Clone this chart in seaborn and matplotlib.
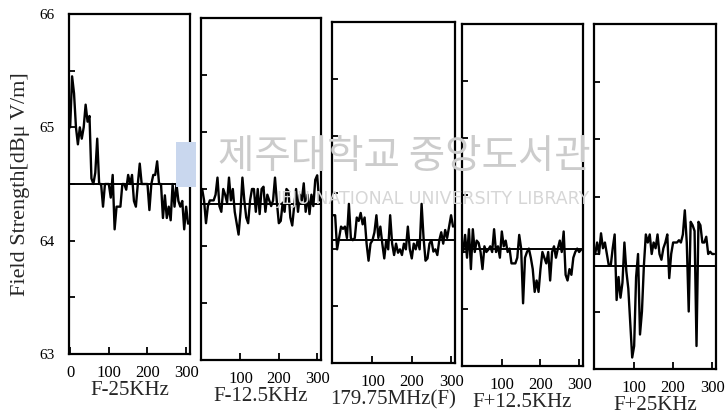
import matplotlib
matplotlib.use("Agg")
import matplotlib.pyplot as plt
import seaborn as sns
import pandas as pd
from matplotlib.ticker import MultipleLocator
from matplotlib.patches import Rectangle

# ---------------- data ----------------
x_pos = list(range(0, 310, 5))  # sample positions 0..305

panel_names = ["F-25KHz", "F-12.5KHz", "179.75MHz(F)", "F+12.5KHz", "F+25KHz"]
baselines = [64.5, 64.37, 64.08, 64.03, 63.9]

p1 = [65.0, 65.45, 65.3, 65.0, 64.85, 65.0, 64.9, 65.0, 65.2, 65.05,
      65.1, 64.55, 64.5, 64.6, 64.9, 64.5, 64.5, 64.3, 64.5, 64.5,
      64.5, 64.38, 64.58, 64.1, 64.3, 64.3, 64.3, 64.5, 64.5, 64.45,
      64.58, 64.5, 64.58, 64.35, 64.3, 64.5, 64.68, 64.5, 64.5, 64.5,
      64.5, 64.27, 64.5, 64.58, 64.58, 64.7, 64.5, 64.5, 64.2, 64.4,
      64.2, 64.3, 64.18, 64.5, 64.3, 64.5, 64.35, 64.3, 64.35, 64.1,
      64.3, 64.15]
p2 = [64.5, 64.4, 64.2, 64.35, 64.4, 64.4, 64.4, 64.45, 64.6, 64.35,
      64.3, 64.5, 64.45, 64.38, 64.6, 64.4, 64.5, 64.3, 64.2, 64.1,
      64.3, 64.6, 64.4, 64.25, 64.2, 64.4, 64.5, 64.5, 64.3, 64.5,
      64.28, 64.5, 64.52, 64.3, 64.45, 64.4, 64.35, 64.4, 64.6, 64.38,
      64.2, 64.22, 64.38, 64.3, 64.5, 64.48, 64.25, 64.18, 64.35, 64.5,
      64.3, 64.45, 64.4, 64.55, 64.3, 64.45, 64.28, 64.45, 64.35, 64.58,
      64.62, 64.4]
p3 = [64.3, 64.3, 64.0, 64.1, 64.2, 64.18, 64.2, 64.1, 64.4, 64.1,
      64.08, 64.1, 64.28, 64.25, 64.32, 64.22, 64.28, 64.05, 63.9, 64.05,
      64.08, 64.15, 64.3, 64.1, 64.2, 64.05, 63.92, 64.08, 64.0, 64.3,
      64.05, 63.95, 64.05, 63.97, 64.0, 63.95, 64.05, 64.0, 64.2, 64.0,
      63.92, 64.05, 64.0, 64.08, 64.0, 64.4, 64.1, 63.9, 63.92, 64.05,
      64.08, 63.98, 64.0, 63.95, 64.08, 64.15, 64.05, 64.17, 64.1, 64.2,
      64.3, 64.2]
p4 = [64.0, 64.15, 63.95, 64.2, 63.85, 64.2, 64.0, 64.1, 64.08, 64.0,
      63.85, 64.05, 64.0, 64.02, 64.05, 64.0, 64.2, 64.0, 64.05, 63.95,
      64.18, 64.05, 64.1, 64.0, 64.03, 63.9, 63.9, 63.9, 63.95, 64.15,
      64.03, 63.55, 63.95, 64.0, 64.03, 63.95, 63.85, 63.65, 63.75, 63.65,
      63.85, 64.0, 63.95, 63.9, 64.0, 63.75, 64.0, 64.05, 63.95, 64.03,
      64.1, 64.0, 64.18, 63.8, 63.75, 63.85, 63.8, 63.95, 64.0, 64.03,
      64.0, 64.02]
p5 = [64.0, 64.1, 64.0, 64.18, 64.05, 64.1, 64.0, 63.9, 63.9, 64.05,
      64.17, 63.6, 63.8, 63.62, 63.75, 64.1, 63.85, 63.7, 63.4, 63.1,
      63.2, 63.8, 64.0, 63.3, 63.5, 63.9, 64.17, 64.1, 64.17, 64.0,
      64.1, 64.05, 64.17, 64.0, 63.95, 64.05, 64.1, 64.17, 63.79, 64.0,
      64.1, 64.1, 64.1, 64.12, 64.1, 64.17, 64.38, 64.1, 63.5, 64.28,
      64.25, 64.2, 63.2, 64.28, 64.25, 64.1, 64.1, 64.15, 64.0, 64.02,
      64.0, 64.0]
series = [p1, p2, p3, p4, p5]

# ---------------- style ----------------
sns.set_theme(style="white")
plt.rcParams["font.family"] = ["Liberation Serif", "DejaVu Serif"]

W, H = 727, 415
fig = plt.figure(figsize=(W / 100, H / 100), dpi=100)

# panel boxes in pixels: left, right, top, bottom
boxes = [(69, 190, 14, 354), (201, 321, 18, 360), (332, 455, 22, 363),
         (462, 583, 24, 366), (594, 716, 24, 369)]

# watermark (faint, behind)
fig.patches.append(Rectangle((176 / W, 1 - 187 / H), 20 / W, 45 / H,
                             transform=fig.transFigure, facecolor="#c9d7ee",
                             edgecolor="none", zorder=0))
fig.text(218 / W, 1 - 157 / H, "제주대학교 중앙도서관", family=["Noto Sans CJK KR"],
         fontsize=28.5, color="#cccccc", va="center", ha="left", zorder=0)
fig.text(590 / W, 1 - 199 / H, "JEJU NATIONAL UNIVERSITY LIBRARY",
         family=["DejaVu Sans"], fontsize=12.5, color="#d6d6d6",
         va="center", ha="right", zorder=0)

for i, (name, base, vals, (l, r, t, b)) in enumerate(zip(panel_names, baselines, series, boxes)):
    ax = fig.add_axes([l / W, 1 - b / H, (r - l) / W, (b - t) / H])
    ax.patch.set_alpha(0)
    df = pd.DataFrame({"x": x_pos[:len(vals)], "v": vals})
    sns.lineplot(data=df, x="x", y="v", ax=ax, color="black", lw=1.7)
    ax.axhline(base, color="black", lw=1.4)
    ax.set_xlim(-3, 310)
    ax.set_ylim(63, 66)
    ax.yaxis.set_major_locator(MultipleLocator(1))
    ax.yaxis.set_minor_locator(MultipleLocator(0.5))
    if i == 0:
        ax.set_xticks([0, 100, 200, 300])
        ax.set_yticks([63, 64, 65, 66])
        ax.set_yticklabels(["63", "64", "65", "66"])
        ax.set_ylabel("Field Strength[dBμ V/m]", fontsize=16, labelpad=7)
    else:
        ax.set_xticks([100, 200, 300])
        ax.set_yticklabels([])
        ax.set_ylabel("")
    ax.tick_params(axis="x", direction="in", length=5, width=1.3, pad=8,
                   labelsize=12, colors="black", bottom=True)
    ax.tick_params(axis="y", which="both", direction="in", length=4, width=1.3,
                   pad=10, labelsize=11, colors="black", left=True)
    ax.set_xlabel(name, fontsize=15, labelpad=0)
    for s in ax.spines.values():
        s.set_visible(True)
        s.set_color("black")
        s.set_linewidth(1.6)

fig.savefig("out.png", dpi=100)
